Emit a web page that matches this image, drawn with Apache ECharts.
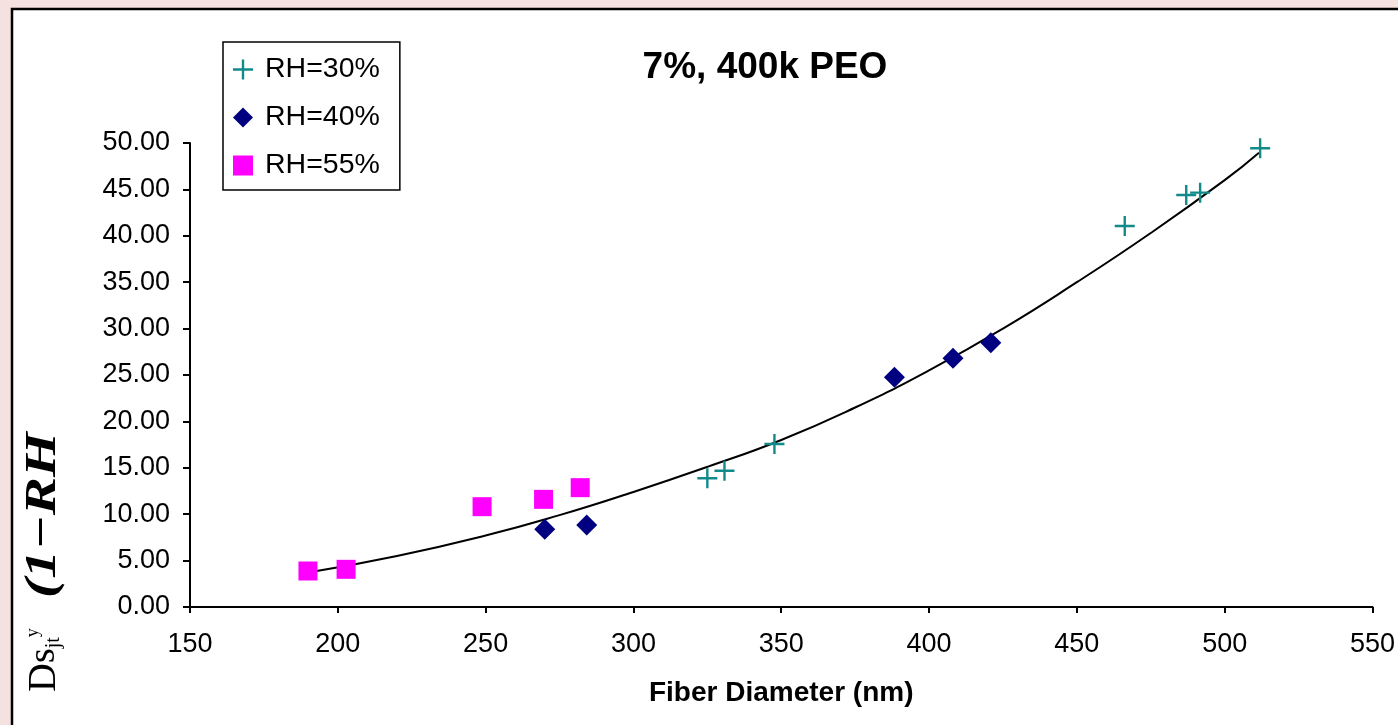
<!DOCTYPE html>
<html>
<head>
<meta charset="utf-8">
<script src="https://cdn.jsdelivr.net/npm/echarts@6/dist/echarts.min.js"></script>
<style>
html,body{margin:0;padding:0;background:#f5e1df;}
#c{width:1398px;height:725px;}
</style>
</head>
<body>
<div id="c"></div>
<script>
// Data
var rh30 = [[325.0,13.87],[330.8,14.69],[347.7,17.56],[466.2,41.06],[487.0,44.4],[491.7,44.65],[512.0,49.43]];
var rh40 = [[270.0,8.37],[284.2,8.84],[388.3,24.75],[408.1,26.8],[420.9,28.48]];
var rh55 = [[189.9,3.88],[202.8,4.06],[248.8,10.81],[269.6,11.6],[282.0,12.86]];
var trend = [[190.4,3.74],[220,5.5],[250,7.7],[275,9.9],[300,12.4],[325,15.1],[350,18.0],[375,21.5],[400,25.5],[425,30.0],[450,35.0],[475,40.3],[500,46.0],[511.6,48.96]];
var seriesNames = ['RH=30%','RH=40%','RH=55%'];
var titleText = '7%, 400k PEO';
var xName = 'Fiber Diameter (nm)';

var plusPath = 'path://M4.4,0H5.6V4.4H10V5.6H5.6V10H4.4V5.6H0V4.4H4.4Z';
var serif = 'Liberation Serif, Times New Roman, serif';
var chart = echarts.init(document.getElementById('c'));
chart.setOption({
  backgroundColor: '#f5e1df',
  animation: false,
  textStyle: {fontFamily: 'Liberation Sans, Arial, sans-serif'},
  graphic: [
    {type:'rect', z:-10, shape:{x:12,y:9,width:1420,height:760}, style:{fill:'#ffffff', stroke:'#000000', lineWidth:2.5}},
    {type:'text', z:10, x:44, y:692, rotation:Math.PI/2,
      style:{
        text:'{d|D}{s|s}{jt|jt}{y|y}',
        textAlign:'left', textVerticalAlign:'middle',
        rich:{
          d:{fontFamily:serif, fontSize:40, fill:'#000'},
          s:{fontFamily:serif, fontSize:38, fill:'#000'},
          jt:{fontFamily:serif, fontSize:20, fill:'#000', verticalAlign:'bottom'},
          y:{fontFamily:serif, fontSize:18, fill:'#000', verticalAlign:'top'}
        }
      }
    },
    {type:'text', z:10, x:44, y:598, rotation:Math.PI/2, scaleX:1.25, scaleY:0.95,
      style:{
        text:'(1\u2212RH',
        textAlign:'left', textVerticalAlign:'middle',
        fontFamily:serif, fontSize:46, fontWeight:'bold', fontStyle:'italic', fill:'#000'
      }
    }
  ],
  title: {
    text: titleText, left: 765, top: 49, textAlign: 'center', padding: 0,
    textStyle: {fontSize: 37, fontWeight: 'bold', color: '#000', fontFamily: 'Liberation Sans, Arial, sans-serif'}
  },
  legend: {
    data: seriesNames,
    orient: 'vertical', left: 223, top: 42,
    padding: [13, 20, 10, 10],
    itemGap: 19, itemWidth: 20, itemHeight: 20,
    borderColor: '#000', borderWidth: 1.5, backgroundColor: '#fff',
    textStyle: {fontSize: 28.5, color: '#000', padding: [0,0,0,7], fontFamily: 'Liberation Sans, Arial, sans-serif'}
  },
  grid: {left: 190, right: 21, top: 143, bottom: 118, containLabel: false},
  xAxis: {
    type: 'value', min: 150, max: 550, interval: 50,
    name: xName, nameLocation: 'middle', nameGap: 72,
    nameTextStyle: {fontSize: 28, fontWeight: 'bold', color: '#000'},
    axisLine: {lineStyle: {color: '#000', width: 2}},
    axisTick: {show: true, inside: false, length: 6, lineStyle: {color: '#000', width: 2}},
    axisLabel: {fontSize: 27, color: '#000', margin: 24},
    splitLine: {show: false}
  },
  yAxis: {
    type: 'value', min: 0, max: 50, interval: 5,
    axisLine: {show: true, lineStyle: {color: '#000', width: 2}},
    axisTick: {show: true, inside: false, length: 7, lineStyle: {color: '#000', width: 2}},
    axisLabel: {fontSize: 27, color: '#000', margin: 20, formatter: function(v){return v.toFixed(2);}},
    splitLine: {show: false}
  },
  series: [
    {name:'trend', type:'line', data: trend, smooth: true, showSymbol: false, symbol:'none',
      lineStyle:{color:'#000', width:2}, z:1, silent:true},
    {name: seriesNames[0], type:'scatter', data: rh30, symbol: plusPath, symbolSize: 20,
      itemStyle:{color:'#128a8a', opacity:1}, z:3},
    {name: seriesNames[1], type:'scatter', data: rh40, symbol: 'diamond', symbolSize: [21,21],
      itemStyle:{color:'#000080', opacity:1}, z:3},
    {name: seriesNames[2], type:'scatter', data: rh55, symbol: 'rect', symbolSize: 19,
      itemStyle:{color:'#ff00ff', opacity:1}, z:3}
  ]
});
</script>
</body>
</html>
